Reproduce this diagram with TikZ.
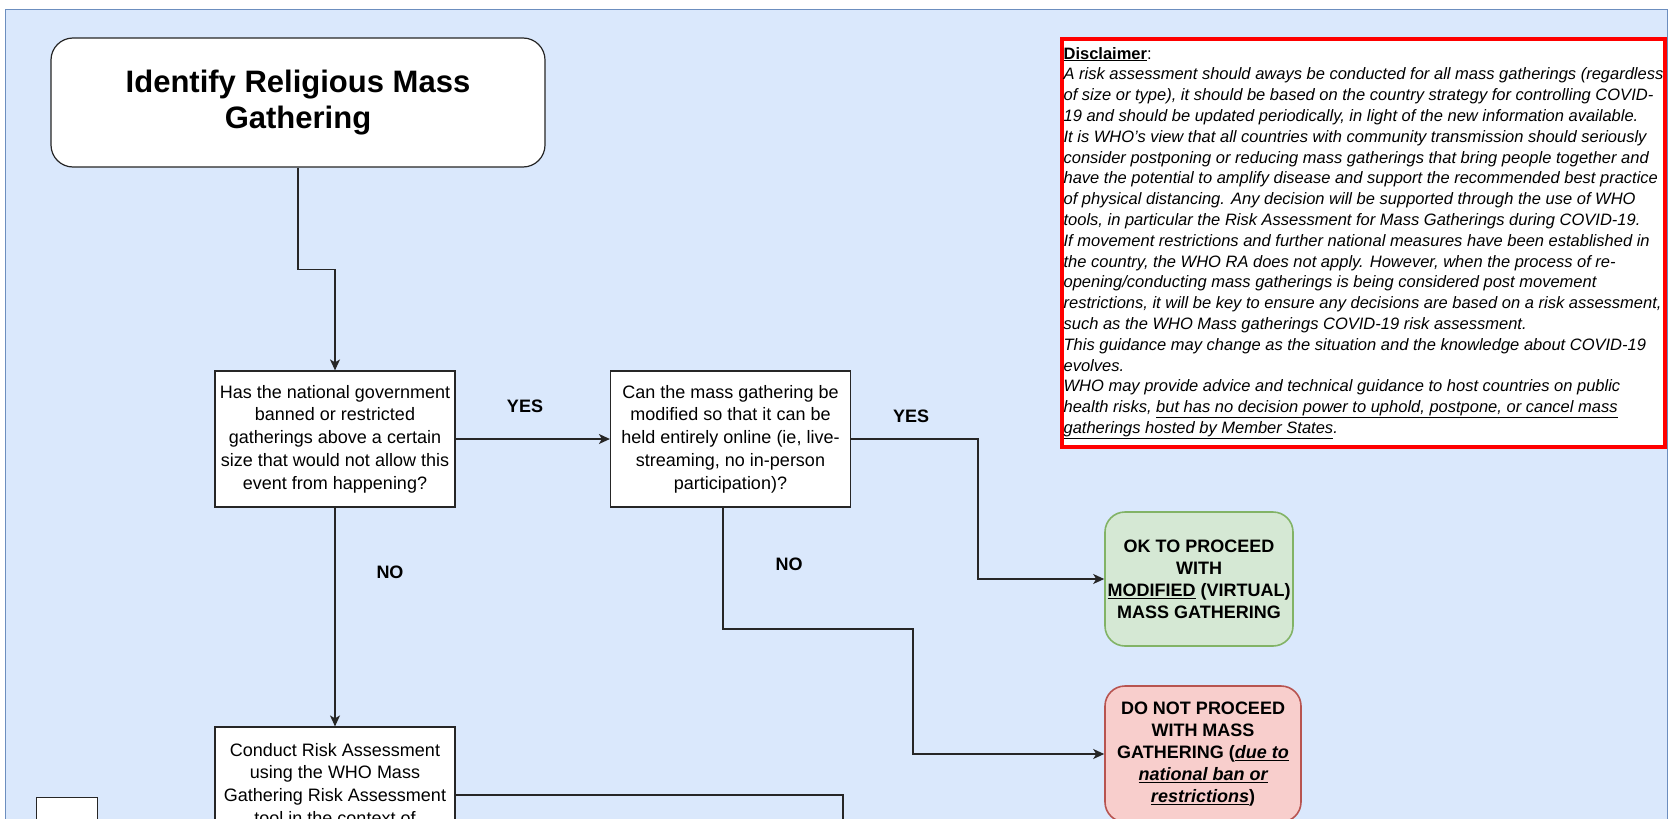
\documentclass[tikz,border=0pt]{standalone}
\usepackage{fontspec}
\setmainfont{Liberation Sans}
\usetikzlibrary{arrows.meta}
\definecolor{bgfill}{HTML}{DAE8FC}
\definecolor{bgline}{HTML}{6C8EBF}
\definecolor{okfill}{HTML}{D5E8D4}
\definecolor{okline}{HTML}{82B366}
\definecolor{nofill}{HTML}{F8CECC}
\definecolor{noline}{HTML}{B85450}
\definecolor{redline}{HTML}{FF0000}
\begin{document}
\begin{tikzpicture}[x=1pt,y=-1pt,
  every node/.style={font=\fontsize{18}{22.7}\selectfont},
  qbox/.style={draw=black!85, line width=1.2pt, fill=white, minimum width=240pt, minimum height=136pt, align=center, inner sep=0pt},
  endbox/.style={rounded corners=20pt, line width=1.6pt, minimum height=134pt, align=center, inner sep=0pt, font=\fontsize{18}{22}\selectfont\bfseries},
  conn/.style={draw=black!85, line width=1.4pt},
  arr/.style={conn, -{Stealth[length=11pt,width=10pt,inset=3pt]}},
  lbl/.style={font=\fontsize{18}{22}\selectfont\bfseries}]
\useasboundingbox (0,0) rectangle (1671,819);
\fill[white] (0,0) rectangle (1671,819);
\draw[bgline, fill=bgfill, line width=1pt] (5.5,9.5) rectangle (1667,900);

\node[draw=black!85, line width=1.2pt, fill=white, rounded corners=22pt, minimum width=494pt, minimum height=129pt, align=center, inner sep=0pt, font=\fontsize{31}{36.5}\selectfont\bfseries] (title) at (298,102.5) {Identify Religious Mass\\Gathering};

\node[qbox] (q1) at (335,439) {Has the national government\\banned or restricted\\gatherings above a certain\\size that would not allow this\\event from happening?};
\node[qbox] (q2) at (730.5,439) {Can the mass gathering be\\modified so that it can be\\held entirely online (ie, live-\\streaming, no in-person\\participation)?};
\node[qbox] (ra) at (335,795) {Conduct Risk Assessment\\using the WHO Mass\\Gathering Risk Assessment\\tool in the context of\\\mbox{}};

\node[endbox, draw=okline, fill=okfill, minimum width=188pt] (ok) at (1199,579) {OK TO PROCEED\\WITH\\\underline{MODIFIED} (VIRTUAL)\\MASS GATHERING};
\node[endbox, draw=noline, fill=nofill, minimum width=196pt, minimum height=136pt] (dnp) at (1203,754) {DO NOT PROCEED\\WITH MASS\\GATHERING (\underline{\itshape due to}\\\underline{\itshape national ban or}\\\underline{\itshape restrictions})};

\node[draw=black!85, line width=1.2pt, fill=white, minimum width=61pt, minimum height=60pt, anchor=north west, inner sep=0pt] (sb) at (36,797) {};

\node[draw=redline, line width=4pt, fill=white, minimum width=603pt, minimum height=408pt, align=left, inner sep=0pt, font=\fontsize{16.5}{20.8}\selectfont] (disc) at (1363.5,243) {\underline{\textbf{Disclaimer}}:\\
\itshape A risk assessment should aways be conducted for all mass gatherings (regardless\\
\itshape of size or type), it should be based on the country strategy for controlling COVID-\\
\itshape 19 and should be updated periodically, in light of the new information available.\\
\itshape It is WHO’s view that all countries with community transmission should seriously\\
\itshape consider postponing or reducing mass gatherings that bring people together and\\
\itshape have the potential to amplify disease and support the recommended best practice\\
\itshape of physical distancing. Any decision will be supported through the use of WHO\\
\itshape tools, in particular the Risk Assessment for Mass Gatherings during COVID-19.\\
\itshape If movement restrictions and further national measures have been established in\\
\itshape the country, the WHO RA does not apply. However, when the process of re-\\
\itshape opening/conducting mass gatherings is being considered post movement\\
\itshape restrictions, it will be key to ensure any decisions are based on a risk assessment,\\
\itshape such as the WHO Mass gatherings COVID-19 risk assessment.\\
\itshape This guidance may change as the situation and the knowledge about COVID-19\\
\itshape evolves.\\
\itshape WHO may provide advice and technical guidance to host countries on public\\
\itshape health risks, \underline{but has no decision power to uphold, postpone, or cancel mass}\\
\itshape \underline{gatherings hosted by Member States}.};

\node[lbl] (yes1) at (525,406) {YES};
\node[lbl] (yes2) at (911,416) {YES};
\node[lbl] (no1) at (390,572) {NO};
\node[lbl] (no2) at (789,564) {NO};

\draw[arr] (title.south) -- ++(0,102) -| (q1.north);
\draw[arr] (q1.east) -- (q2.west);
\draw[arr] (q1.south) -- (ra.north);
\coordinate (ybend) at (978,439);
\draw[arr] (q2.east) -- (ybend) |- (ok.west);
\coordinate (nbend) at (913,629);
\draw[arr] ([xshift=-7.5pt]q2.south) |- (nbend) |- (dnp.west);
\coordinate (raout) at (843,860);
\draw[conn] (ra.east) -| (raout);
\end{tikzpicture}
\end{document}
